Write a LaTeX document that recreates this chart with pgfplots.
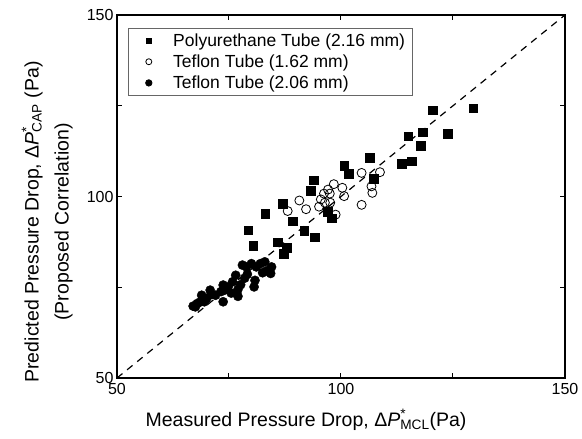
\documentclass[border=0pt]{standalone}
\usepackage{fontspec}
\setmainfont{Liberation Sans}
\usepackage{pgfplots}
\pgfplotsset{compat=1.18}
\newcommand{\legfont}{\fontsize{17.5}{21}\selectfont}
\begin{document}
\begin{tikzpicture}
\begin{axis}[
  scale only axis,
  width=448pt, height=363pt,
  xmin=50, xmax=150, ymin=50, ymax=150,
  xtick={50,100,150}, ytick={50,100,150},
  minor xtick={75,125}, minor ytick={75,125},
  tick pos=both,
  tick align=inside,
  major tick length=5pt, minor tick length=5pt,
  every tick/.style={black, line width=1pt},
  axis line style={line width=1.4pt},
  /pgf/number format/assume math mode=true,
  tick label style={font=\fontsize{16}{18}\selectfont},
  xticklabel style={yshift=-2pt},
  xlabel={Measured Pressure Drop, Δ\textit{P}\rlap{\textsuperscript{*}}\textsubscript{MCL}(Pa)},
  xlabel style={font=\fontsize{19.5}{22}\selectfont, at={(axis description cs:0.422,0)}, anchor=center, yshift=-42pt},
  ylabel={Predicted Pressure Drop, Δ\textit{P}\rlap{\textsuperscript{*}}\textsubscript{CAP} (Pa)\\(Proposed Correlation)},
  ylabel style={font=\fontsize{19.5}{30}\selectfont, align=center, at={(axis description cs:-0.156,0.43)}, anchor=center, rotate=0},
  legend style={at={(axis description cs:0.0246,0.964)}, anchor=north west, draw=black!60, line width=0.8pt, font=\legfont, nodes={font=\legfont, inner sep=1pt}, row sep=5pt, inner xsep=6pt, inner ysep=4pt},
  legend cell align=left,
]
\addplot[dashed, dash pattern=on 7pt off 6pt, line width=1.2pt, black, forget plot] coordinates {(50,50) (150,150)};
\addplot[only marks, mark=square*, mark size=4.4pt, black,
  legend image code/.code={\path (0pt,0pt) (37pt,0pt); \draw[mark size=2.6pt] plot coordinates {(14pt,0pt)};}]
coordinates {
(129.5,124.3)(120.4,123.8)(123.8,117.2)(118.2,117.7)(115.0,116.6)(117.8,114.0)
(115.8,109.7)(113.5,109.1)(106.4,110.7)(100.7,108.4)(101.7,106.2)(107.3,105.0)
(93.9,104.5)(93.2,101.5)(86.9,98.1)(83.1,95.3)(89.2,93.2)(79.3,90.7)(91.8,90.5)
(94.1,88.8)(80.4,86.4)(85.8,87.4)(87.8,86.0)(87.2,84.3)(97.1,95.8)(97.9,94.0)
};
\addlegendentry{Polyurethane Tube (2.16 mm)}
\addplot[only marks, mark=o, mark size=4.5pt, black, mark options={fill=white, line width=0.8pt},
  legend image code/.code={\path (0pt,0pt) (37pt,0pt); \draw[mark size=3pt] plot coordinates {(14pt,0pt)};}]
coordinates {
(104.6,106.5)(108.7,106.7)(106.8,102.8)(107.0,101.0)(104.6,97.7)(100.3,102.4)
(100.7,100.1)(98.4,103.4)(97.1,101.9)(96.2,100.8)(97.5,100.8)(95.5,99.2)
(96.4,98.3)(95.1,97.2)(97.6,98.3)(98.8,95.0)(90.7,98.9)(92.2,96.5)(88.1,96.0)
};
\addlegendentry{Teflon Tube (1.62 mm)}
\addplot[only marks, mark=*, mark size=4.6pt, black,
  legend image code/.code={\path (0pt,0pt) (37pt,0pt); \draw[mark size=3.2pt] plot coordinates {(14pt,0pt)};}]
coordinates {
(67.0,69.8)(67.5,69.6)(67.9,70.5)(68.5,70.9)(68.9,72.8)(70.0,71.9)(70.8,74.2)
(72.0,72.8)(73.2,73.8)(73.7,71.0)(73.7,75.6)(74.0,74.2)(74.8,75.1)(75.5,73.4)
(76.5,78.3)(77.0,72.5)(77.0,74.4)(77.6,75.7)(78.0,81.1)(78.9,80.6)(79.1,78.6)
(80.0,81.5)(80.6,75.1)(80.8,76.9)(81.1,80.6)(82.5,79.0)(83.0,82.0)(83.4,79.5)
(84.3,78.8)(84.5,80.6)(71.0,73.0)(69.5,71.0)(75.8,76.5)(78.5,77.5)(82.0,81.5)
};
\addlegendentry{Teflon Tube (2.06 mm)}
\end{axis}
\pgfresetboundingbox
\path (current axis.south west) ++(-117pt,-61pt) rectangle (current axis.north east) ++(17pt,15pt);
\end{tikzpicture}
\end{document}
